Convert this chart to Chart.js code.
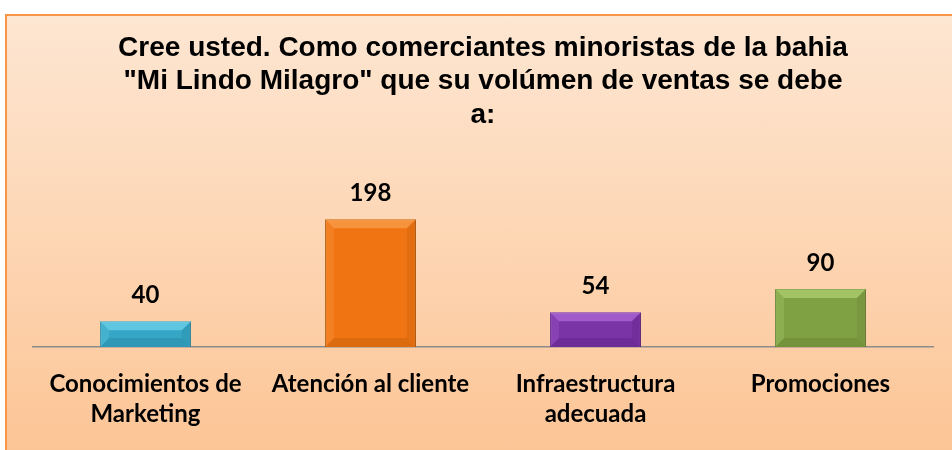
<!DOCTYPE html>
<html>
<head>
<meta charset="utf-8">
<script src="https://cdn.jsdelivr.net/npm/chart.js@4"></script>
<style>
  html, body { margin: 0; padding: 0; background: #fff; overflow: hidden; }
  #frame {
    position: absolute; left: 5px; top: 14px; width: 960px; height: 450px;
    border: 2px solid #f79646; box-sizing: border-box;
    background: linear-gradient(to bottom, #fde6d2 0%, #fdd6b4 50%, #fcc494 100%);
  }
  #wrap { position: absolute; left: 0; top: 0; width: 952px; height: 451px; }
</style>
</head>
<body>
<div id="frame"></div>
<div id="wrap"><canvas id="c" width="952" height="451"></canvas></div>
<script>
// data
var categories = [
  ["Conocimientos de", "Marketing"],
  "Atención al cliente",
  ["Infraestructura", "adecuada"],
  "Promociones"
];
var values = [40, 198, 54, 90];
var titleLines = [
  "Cree usted. Como comerciantes minoristas de la bahia",
  "\"Mi Lindo Milagro\" que su volúmen de ventas se debe",
  "a:"
];

// colours per bar
var fill = ["#36a6c6", "#f07512", "#7a34a6", "#80a044"];
var light = ["#7fe0f6", "#fbac5e", "#c07ae8", "#c0e080"];
var dark = ["#1f7f99", "#b8560a", "#5a2080", "#5f7a2c"];
var edge = ["#2a7f98", "#a0520e", "#54207a", "#5a7230"];

// bevel look like the office chart
var bevel = {
  id: "bevel",
  afterDatasetsDraw: function(chart) {
    var ctx = chart.ctx;
    var meta = chart.getDatasetMeta(0);
    meta.data.forEach(function(bar, i) {
      var l = bar.x - bar.width / 2, r = bar.x + bar.width / 2;
      var t = bar.y, btm = bar.base;
      var b = Math.min(9, (btm - t) / 2);
      ctx.save();
      ctx.globalAlpha = 0.55;
      ctx.fillStyle = light[i];
      ctx.beginPath();
      ctx.moveTo(l, t); ctx.lineTo(r, t); ctx.lineTo(r - b, t + b); ctx.lineTo(l + b, t + b);
      ctx.closePath(); ctx.fill();
      ctx.globalAlpha = 0.35;
      ctx.fillStyle = dark[i];
      ctx.beginPath();
      ctx.moveTo(l, btm); ctx.lineTo(r, btm); ctx.lineTo(r - b, btm - b); ctx.lineTo(l + b, btm - b);
      ctx.closePath(); ctx.fill();
      ctx.globalAlpha = 0.25;
      ctx.beginPath();
      ctx.moveTo(r, t); ctx.lineTo(r, btm); ctx.lineTo(r - b, btm - b); ctx.lineTo(r - b, t + b);
      ctx.closePath(); ctx.fill();
      ctx.globalAlpha = 0.2;
      ctx.fillStyle = light[i];
      ctx.beginPath();
      ctx.moveTo(l, t); ctx.lineTo(l, btm); ctx.lineTo(l + b, btm - b); ctx.lineTo(l + b, t + b);
      ctx.closePath(); ctx.fill();
      ctx.restore();
    });
  }
};

// value labels above the bars
var valueLabels = {
  id: "valueLabels",
  afterDatasetsDraw: function(chart) {
    var ctx = chart.ctx;
    var meta = chart.getDatasetMeta(0);
    ctx.save();
    ctx.font = "bold 24px Lato";
    ctx.fillStyle = "#000";
    ctx.textAlign = "center";
    ctx.textBaseline = "middle";
    meta.data.forEach(function(bar, i) {
      ctx.fillText(chart.data.datasets[0].data[i], bar.x, bar.y - 26);
    });
    ctx.restore();
  }
};

new Chart(document.getElementById("c"), {
  type: "bar",
  data: {
    labels: categories,
    datasets: [{
      data: values,
      backgroundColor: fill,
      borderColor: edge,
      borderWidth: 1,
      categoryPercentage: 1,
      barPercentage: 0.404
    }]
  },
  options: {
    responsive: false,
    animation: false,
    layout: { padding: { left: 33, right: 19, top: 0, bottom: 0 } },
    plugins: {
      legend: { display: false },
      tooltip: { enabled: false },
      title: {
        display: true,
        text: titleLines,
        color: "#000",
        font: { family: "Liberation Sans", size: 28, weight: "bold", lineHeight: 1.2 },
        padding: { top: 31, bottom: 54 }
      }
    },
    scales: {
      x: {
        grid: { display: false, drawTicks: false },
        border: { display: true, color: "#8c8c8c", width: 1.5 },
        ticks: {
          color: "#000",
          padding: 22,
          maxRotation: 0,
          autoSkip: false,
          font: { family: "Lato", size: 24, weight: "bold", lineHeight: 1.25 }
        }
      },
      y: {
        display: false,
        min: 0,
        max: 250
      }
    }
  },
  plugins: [bevel, valueLabels]
});
</script>
</body>
</html>
